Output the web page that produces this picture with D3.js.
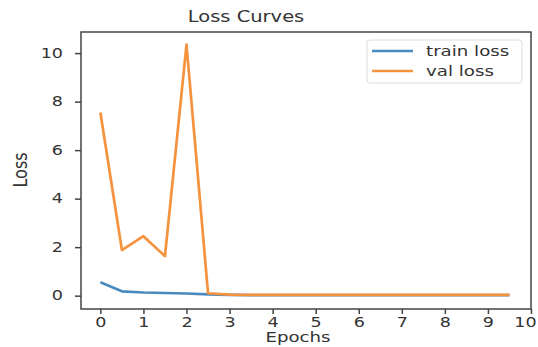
<!DOCTYPE html>
<html>
<head>
<meta charset="utf-8">
<script src="https://cdn.jsdelivr.net/npm/d3@7"></script>
<style>
  body { margin: 0; background: #fff; }
  text { font-family: "DejaVu Sans", sans-serif; fill: #333; }
</style>
</head>
<body>
<div id="chart"></div>
<script>
// half-epoch checkpoints
const epochs = [0, 0.5, 1, 1.5, 2, 2.5, 3, 3.5, 4, 4.5, 5, 5.5, 6, 6.5, 7, 7.5, 8, 8.5, 9, 9.5];
const trainLoss = [0.55, 0.18, 0.13, 0.11, 0.09, 0.05, 0.03, 0.02, 0.02, 0.02, 0.02, 0.02, 0.02, 0.02, 0.02, 0.02, 0.02, 0.02, 0.02, 0.02];
const valLoss = [7.55, 1.88, 2.45, 1.63, 10.35, 0.1, 0.04, 0.03, 0.03, 0.03, 0.03, 0.03, 0.03, 0.03, 0.03, 0.03, 0.03, 0.03, 0.03, 0.03];
const xTicks = [0, 1, 2, 3, 4, 5, 6, 7, 8, 9, 10];
const yTicks = [0, 2, 4, 6, 8, 10];
const seriesNames = ["train loss", "val loss"];
const seriesColors = ["#4a8bbf", "#f5923e"];

const width = 538, height = 347;
const margin = { left: 81, right: 7, top: 32, bottom: 38 };
const stretch = 1.3; // the picture is widened sideways

const svg = d3.select("#chart").append("svg")
  .attr("width", width)
  .attr("height", height);

const x = d3.scaleLinear()
  .domain([-0.45, 10])
  .range([margin.left, width - margin.right]);

const y = d3.scaleLinear()
  .domain([-0.55, 10.87])
  .range([height - margin.bottom, margin.top]);

// frame
svg.append("rect")
  .attr("x", margin.left)
  .attr("y", margin.top)
  .attr("width", width - margin.left - margin.right)
  .attr("height", height - margin.top - margin.bottom)
  .attr("fill", "none")
  .attr("stroke", "#444")
  .attr("stroke-width", 1.5);

// axes
const xAxis = svg.append("g")
  .attr("transform", `translate(0,${height - margin.bottom})`)
  .call(d3.axisBottom(x).tickValues(xTicks).tickSize(5).tickPadding(3).tickFormat(d3.format("d")));
const yAxis = svg.append("g")
  .attr("transform", `translate(${margin.left},0)`)
  .call(d3.axisLeft(y).tickValues(yTicks).tickSize(6).tickPadding(7).tickFormat(d3.format("d")));

[xAxis, yAxis].forEach(g => {
  g.select(".domain").remove();
  g.selectAll(".tick line").attr("stroke", "#444").attr("stroke-width", 1.5);
  g.selectAll(".tick text")
    .style("font-size", "13.5px")
    .style("font-family", "DejaVu Sans, sans-serif")
    .attr("fill", "#333")
    .attr("transform", `scale(${stretch},1)`);
});
yAxis.selectAll(".tick text").attr("x", -18 / stretch);
// last x label sits against the right edge
xAxis.selectAll(".tick text").filter(d => d === 10).attr("x", -6 / stretch);

// lines
const line = vals => d3.line()
  .x((d, i) => x(epochs[i]))
  .y(d => y(d))(vals);

[trainLoss, valLoss].forEach((vals, i) => {
  svg.append("path")
    .attr("d", line(vals))
    .attr("fill", "none")
    .attr("stroke", seriesColors[i])
    .attr("stroke-width", 2.7)
    .attr("stroke-linejoin", "round");
});

// title + labels
svg.append("text")
  .attr("transform", `translate(246,22) scale(${stretch},1)`)
  .attr("text-anchor", "middle")
  .style("font-size", "15px")
  .text("Loss Curves");

svg.append("text")
  .attr("transform", `translate(298,342) scale(${stretch},1)`)
  .attr("text-anchor", "middle")
  .style("font-size", "14px")
  .text("Epochs");

svg.append("text")
  .attr("transform", "translate(27,170) rotate(-90) scale(0.8,1)")
  .attr("text-anchor", "middle")
  .style("font-size", "20px")
  .text("Loss");

// legend
const legend = svg.append("g").attr("transform", "translate(367,40)");
legend.append("rect")
  .attr("width", 155)
  .attr("height", 43)
  .attr("rx", 3)
  .attr("fill", "#fff")
  .attr("stroke", "#ddd");
seriesNames.forEach((name, i) => {
  const row = legend.append("g").attr("transform", `translate(0,${11 + i * 20})`);
  row.append("line")
    .attr("x1", 5).attr("x2", 46)
    .attr("stroke", seriesColors[i])
    .attr("stroke-width", 2.5);
  row.append("text")
    .attr("transform", `translate(59,5) scale(${stretch},1)`)
    .style("font-size", "14px")
    .text(name);
});
</script>
</body>
</html>
